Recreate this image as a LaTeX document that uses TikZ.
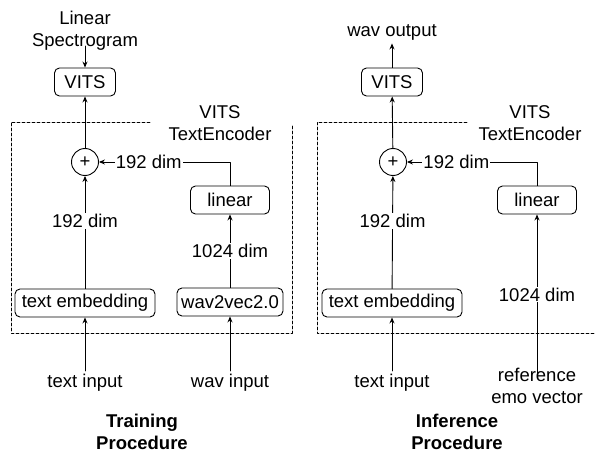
\documentclass[tikz,border=0pt]{standalone}
\usepackage{fontspec}
\setmainfont{Liberation Sans}
\usetikzlibrary{arrows.meta,positioning}

\begin{document}
\begin{tikzpicture}[
    x=1pt, y=-1pt,
    line cap=round, line join=round,
    >={Stealth[length=6pt, width=5pt]},
    %% --- styles ---
    every node/.style = {font=\fontsize{18.5}{22}\selectfont},
    blockbox/.style   = {rectangle, draw, line width=0.9pt, rounded corners=5pt,
                         minimum height=28pt, inner xsep=3pt, inner ysep=3pt},
    plusnode/.style   = {circle, draw, line width=0.9pt, minimum size=27pt,
                         inner sep=0pt},
    dimlabel/.style   = {fill=white, inner sep=1pt},
    framebox/.style   = {draw, line width=0.7pt, dash pattern=on 3pt off 2pt},
    flow/.style       = {->, line width=0.9pt},
    titlelabel/.style = {font=\fontsize{18.5}{22}\selectfont\bfseries, align=center}
]
\useasboundingbox (0,0) rectangle (595,452);

%% =====================================================
%% Training procedure
%% =====================================================
\draw[framebox] (150,122) -- (11,122) -- (11,333) -- (292,333) -- (292,125);
\node[align=center] (encA) at (220,123) {VITS\\TextEncoder};

\node[align=center] (specA) at (85,31) {Linear\\Spectrogram};
\node[blockbox, minimum width=61pt] (vitsA) at (85,82) {VITS};
\node[plusnode] (sumA) at (85,162) {+};
\node[blockbox, minimum width=79pt] (linA) at (230,200) {linear};
\node[blockbox, minimum width=140pt] (embA) at (85,303) {text embedding};
\node[blockbox, minimum width=106pt] (w2vA) at (230,302) {wav2vec2.0};
\node (txtA) at (85,383) {text input};
\node (wavA) at (230,383) {wav input};
\node[titlelabel] (trainT) at (142,432) {Training\\Procedure};

\draw[flow] ([yshift=8pt]specA.south) -- (vitsA);
\draw[flow] (sumA) -- (vitsA);
\draw[flow] (embA) -- node[dimlabel, pos=0.6] {192 dim} (sumA);
\draw[flow] (linA.north) |- node[dimlabel, pos=0.81] {192 dim} (sumA.east);
\draw[flow] (w2vA) -- node[dimlabel] {1024 dim} (linA);
\draw[flow] (txtA) -- (embA);
\draw[flow] (wavA) -- (w2vA);

%% =====================================================
%% Inference procedure
%% =====================================================
\draw[framebox] (467,122) -- (317,122) -- (317,333) -- (595,333);
\node[align=center] (encB) at (530,123) {VITS\\TextEncoder};

\node (woutB) at (392,32) {wav output};
\node[blockbox, minimum width=61pt] (vitsB) at (392,82) {VITS};
\node[plusnode] (sumB) at (393,162) {+};
\node[blockbox, minimum width=79pt] (linB) at (537,200) {linear};
\node[blockbox, minimum width=140pt] (embB) at (392,303) {text embedding};
\node (txtB) at (392,383) {text input};
\node[align=center] (refB) at (537,386) {reference\\emo vector};
\node[titlelabel] (infT) at (457,432) {Inference\\Procedure};

\draw[flow] (vitsB) -- (woutB);
\draw[flow] (sumB) -- (vitsB);
\draw[flow] (embB) -- node[dimlabel, pos=0.6] {192 dim} (sumB);
\draw[flow] (linB.north) |- node[dimlabel, pos=0.81] {192 dim} (sumB.east);
\draw[flow] ([yshift=-10pt]refB.north) -- node[dimlabel] {1024 dim} (linB);
\draw[flow] (txtB) -- (embB);

\end{tikzpicture}
\end{document}
